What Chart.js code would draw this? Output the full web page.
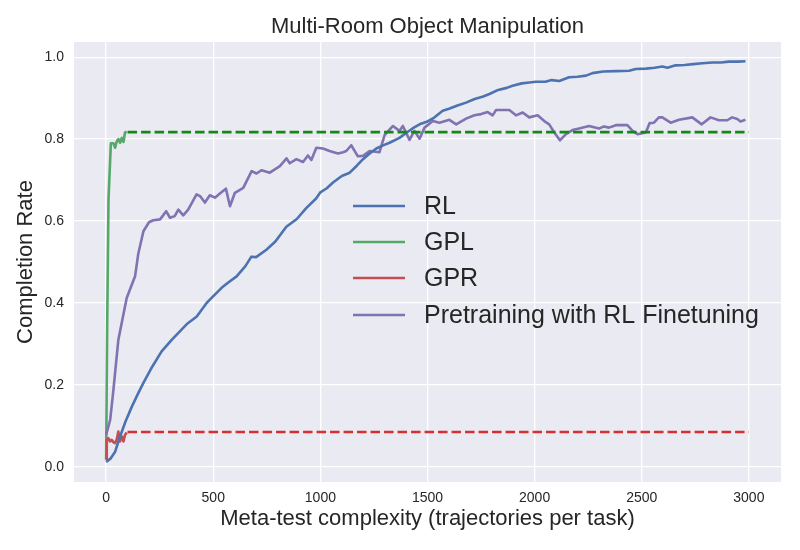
<!DOCTYPE html>
<html>
<head>
<meta charset="utf-8">
<script src="https://cdn.jsdelivr.net/npm/chart.js@4"></script>
<style>
  html, body { margin: 0; padding: 0; background: #ffffff; }
  #wrap { width: 800px; height: 550px; }
</style>
</head>
<body>
<div id="wrap"><canvas id="c" width="800" height="550"></canvas></div>
<script>
// ---- data ----
const chartTitle = "Multi-Room Object Manipulation";
const xTitle = "Meta-test complexity (trajectories per task)";
const yTitle = "Completion Rate";
const seriesLabels = ["RL", "GPL", "GPR", "Pretraining with RL Finetuning"];
const xTicks = [0, 500, 1000, 1500, 2000, 2500, 3000];
const yTicks = [0.0, 0.2, 0.4, 0.6, 0.8, 1.0];

const rlX = [0,20,42,65,90,120,150,174,210,259,306,352,380,423,469,484,539,570,609,650,678,700,748,790,841,890,935,980,1000,1030,1059,1100,1137,1170,1199,1230,1261,1290,1323,1369,1400,1430,1463,1500,1530,1571,1600,1640,1680,1720,1760,1789,1830,1870,1897,1940,1975,2006,2050,2080,2115,2161,2200,2240,2270,2320,2380,2441,2472,2520,2560,2596,2620,2658,2700,2740,2783,2830,2870,2907,2950,2984];
const rlY = [0.012,0.02,0.037,0.074,0.11,0.147,0.18,0.205,0.24,0.282,0.31,0.335,0.35,0.367,0.40,0.408,0.437,0.45,0.465,0.49,0.513,0.512,0.53,0.55,0.586,0.605,0.632,0.655,0.67,0.68,0.694,0.71,0.718,0.735,0.751,0.765,0.777,0.784,0.791,0.803,0.815,0.826,0.836,0.843,0.852,0.869,0.874,0.882,0.889,0.898,0.904,0.91,0.92,0.925,0.93,0.936,0.938,0.94,0.94,0.944,0.942,0.951,0.952,0.955,0.961,0.965,0.966,0.967,0.971,0.972,0.974,0.977,0.974,0.98,0.981,0.983,0.985,0.987,0.987,0.989,0.989,0.99];

const gplX = [0,5,11,22,34,42,50,57,65,73,81,88,96];
const gplY = [0.017,0.35,0.653,0.79,0.79,0.779,0.795,0.80,0.791,0.803,0.793,0.816,0.818];
const gplFinal = 0.817;

const gprX = [0,3,10,18,26,34,42,50,57,65,73,81,88,96];
const gprY = [0.017,0.066,0.07,0.062,0.066,0.06,0.058,0.068,0.086,0.062,0.074,0.062,0.078,0.084];
const gprFinal = 0.085;

const finalFrom = 100;
const finalTo = 3000;

const ptX = [0,19,34,57,96,135,150,174,200,220,252,280,298,320,337,360,383,422,440,461,484,508,531,559,578,601,640,679,702,725,764,811,842,857,888,919,942,958,981,1012,1043,1082,1106,1121,1144,1175,1199,1230,1276,1300,1339,1369,1385,1416,1439,1463,1486,1525,1556,1602,1634,1680,1719,1750,1781,1804,1820,1882,1913,1944,1975,2014,2045,2068,2092,2118,2146,2177,2208,2254,2301,2324,2347,2379,2433,2457,2480,2519,2537,2557,2580,2596,2635,2674,2736,2780,2821,2860,2899,2922,2946,2961,2984];
const ptY = [0.078,0.115,0.188,0.31,0.412,0.465,0.52,0.575,0.597,0.602,0.604,0.624,0.608,0.612,0.628,0.614,0.628,0.665,0.66,0.645,0.663,0.657,0.667,0.679,0.636,0.669,0.681,0.722,0.716,0.724,0.718,0.734,0.753,0.741,0.751,0.744,0.76,0.749,0.779,0.777,0.771,0.765,0.768,0.771,0.785,0.758,0.759,0.771,0.768,0.81,0.832,0.82,0.832,0.798,0.82,0.801,0.828,0.844,0.84,0.847,0.836,0.85,0.858,0.861,0.866,0.858,0.871,0.871,0.858,0.865,0.853,0.858,0.844,0.836,0.816,0.797,0.812,0.822,0.826,0.832,0.826,0.831,0.828,0.834,0.834,0.82,0.812,0.816,0.839,0.84,0.853,0.853,0.84,0.847,0.853,0.836,0.853,0.846,0.846,0.853,0.849,0.843,0.847];

// ---- styling ----
const colors = ["#4C72B0", "#55A868", "#C44E52", "#8172B2"];
const dashGreen = "#148a14";
const dashRed = "#d62f2f";
const FONT = "'Liberation Sans', Arial, sans-serif";
const TEXT = "#262626";

const pts = (xs, ys) => xs.map((x, i) => ({ x: x, y: ys[i] }));
const base = { fill: false, pointRadius: 0, tension: 0, borderWidth: 2.6, borderCapStyle: 'butt', borderJoinStyle: 'round' };

const datasets = [
  Object.assign({}, base, { label: seriesLabels[0], data: pts(rlX, rlY), borderColor: colors[0], order: 1 }),
  Object.assign({}, base, { label: seriesLabels[1], data: pts(gplX, gplY), borderColor: colors[1], order: 4 }),
  Object.assign({}, base, { label: seriesLabels[2], data: pts(gprX, gprY), borderColor: colors[2], order: 3 }),
  Object.assign({}, base, { label: seriesLabels[3], data: pts(ptX, ptY), borderColor: colors[3], order: 2 }),
  Object.assign({}, base, { label: "_gplFinal", data: pts([finalFrom, finalTo], [gplFinal, gplFinal]), borderColor: dashGreen, borderDash: [9.5, 4], order: 0 }),
  Object.assign({}, base, { label: "_gprFinal", data: pts([finalFrom, finalTo], [gprFinal, gprFinal]), borderColor: dashRed, borderDash: [9.5, 4], order: 0 })
];

const bgPlugin = {
  id: 'bg',
  beforeDraw(chart) {
    const { ctx, chartArea: a } = chart;
    ctx.save();
    ctx.fillStyle = '#ffffff';
    ctx.fillRect(0, 0, chart.width, chart.height);
    ctx.fillStyle = '#EAEAF2';
    ctx.fillRect(a.left, a.top, a.right - a.left, a.bottom - a.top);
    ctx.restore();
  }
};

const deco = {
  id: 'deco',
  afterDraw(chart) {
    const { ctx, chartArea: a } = chart;
    ctx.save();
    // title
    ctx.fillStyle = TEXT;
    ctx.font = "22px " + FONT;
    ctx.textAlign = 'center';
    ctx.textBaseline = 'alphabetic';
    ctx.fillText(chartTitle, (a.left + a.right) / 2, 33);
    // legend
    const lx0 = 353, lx1 = 405, tx = 424;
    const rows = [206, 242, 278, 315];
    ctx.font = "25px " + FONT;
    ctx.textAlign = 'left';
    ctx.textBaseline = 'middle';
    for (let i = 0; i < 4; i++) {
      ctx.strokeStyle = colors[i];
      ctx.lineWidth = 2.6;
      ctx.beginPath();
      ctx.moveTo(lx0, rows[i]);
      ctx.lineTo(lx1, rows[i]);
      ctx.stroke();
      ctx.fillStyle = TEXT;
      ctx.fillText(seriesLabels[i], tx, rows[i] + 1);
    }
    ctx.restore();
  }
};

new Chart(document.getElementById('c'), {
  type: 'line',
  data: { datasets: datasets },
  options: {
    responsive: false,
    animation: false,
    devicePixelRatio: 1,
    layout: { padding: { top: 42, right: 19, left: 0, bottom: 0 } },
    plugins: { legend: { display: false }, title: { display: false }, tooltip: { enabled: false } },
    scales: {
      x: {
        type: 'linear', min: -150, max: 3150,
        afterFit(s) { s.height = 68; },
        afterBuildTicks(s) { s.ticks = xTicks.map(v => ({ value: v })); },
        grid: { color: '#ffffff', lineWidth: 1.3, drawTicks: false },
        border: { display: false },
        ticks: { color: TEXT, font: { family: FONT, size: 14 }, padding: 8, maxRotation: 0, callback: v => String(v) },
        title: { display: true, text: xTitle, color: TEXT, font: { family: FONT, size: 22 }, padding: { top: 0, bottom: 18 } }
      },
      y: {
        type: 'linear', min: -0.037, max: 1.037,
        afterFit(s) { s.width = 74; },
        afterBuildTicks(s) { s.ticks = yTicks.map(v => ({ value: v })); },
        grid: { color: '#ffffff', lineWidth: 1.3, drawTicks: false },
        border: { display: false },
        ticks: { color: TEXT, font: { family: FONT, size: 14 }, padding: 10, callback: v => Number(v).toFixed(1) },
        title: { display: true, text: yTitle, color: TEXT, font: { family: FONT, size: 22 }, padding: { top: 13, bottom: 0 } }
      }
    }
  },
  plugins: [bgPlugin, deco]
});
</script>
</body>
</html>
